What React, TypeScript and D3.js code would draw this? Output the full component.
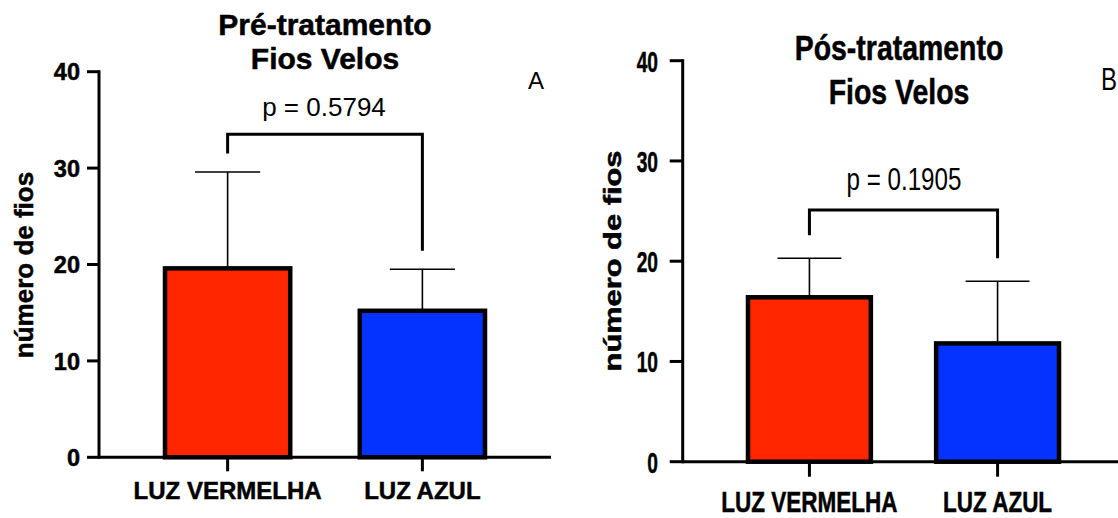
import * as d3 from "d3";

const GROUPS = ["LUZ VERMELHA", "LUZ AZUL"];
const COLORS = ["#FF2600", "#0433FF"];
const Y_TICKS = [0, 10, 20, 30, 40];

// mean and SD (upper error bar) per group
const PRE_MEAN = [19.6, 15.2];
const PRE_SD = [10.0, 4.3];
const POST_MEAN = [16.4, 11.8];
const POST_SD = [3.9, 6.2];

const P_VALUES = ["p = 0.5794", "p = 0.1905"];
const BRACKET_Y = [33.5, 25.1];
const TITLES = [
  ["Pré-tratamento", "Fios Velos"],
  ["Pós-tratamento", "Fios Velos"],
];
const LETTERS = ["A", "B"];
const Y_LABEL = "número de fios";

const FONT = "'Liberation Sans', Arial, sans-serif";

// layout of each panel (the source figure is two images, stretched differently)
const PANELS = [
  {
    mean: PRE_MEAN, sd: PRE_SD,
    axisX: 99, axisEnd: 551, yTop: 71.7, yBot: 457.3,
    bars: [165, 485], pad: 0.357,
    tick: { right: 80, size: 24, sx: 0.98 },
    xlab: { base: 499, size: 24, sx: 1.0 },
    ylab: { x: 33, y: 265, size: 26, sx: 1.0 },
    title: { x: 325, base: [35, 69], size: 30, sx: 1.0 },
    letter: { x: 536, base: 89, size: 24, sx: 1.0 },
    p: { x: 324, gap: 18, size: 26, sx: 1.0 },
    legGap: 18.5, tickLen: 12,
  },
  {
    mean: POST_MEAN, sd: POST_SD,
    axisX: 682.7, axisEnd: 1118, yTop: 60.7, yBot: 461.7,
    bars: [748, 1059], pad: 0.347,
    tick: { right: 658, size: 30, sx: 0.64 },
    xlab: { base: 512, size: 30, sx: 0.75 },
    ylab: { x: 621, y: 261, size: 23, sx: 1.34 },
    title: { x: 899, base: [60, 104], size: 36, sx: 0.79 },
    letter: { x: 1109, base: 90, size: 32, sx: 0.75 },
    p: { x: 904, gap: 20, size: 31, sx: 0.78 },
    legGap: 23, tickLen: 13,
  },
];

function Txt({ x, y, size, sx, bold, anchor = "middle", rotate = 0, children }: any) {
  return (
    <text
      transform={`translate(${x},${y}) rotate(${rotate}) scale(${sx},1)`}
      textAnchor={anchor}
      fontFamily={FONT}
      fontSize={size}
      fontWeight={bold ? "bold" : "normal"}
      fill="#000"
      stroke={bold ? "#000" : "none"}
      strokeWidth={bold ? 0.5 : 0}
    >
      {children}
    </text>
  );
}

function Panel({ cfg, i }: any) {
  const y = d3.scaleLinear().domain([0, 40]).range([cfg.yBot, cfg.yTop]);
  const x = d3.scaleBand<string>().domain(GROUPS).range(cfg.bars).paddingInner(cfg.pad).paddingOuter(0);
  const bw = x.bandwidth();
  const cx = (g: string) => (x(g) as number) + bw / 2;
  const capHalf = bw * 0.26;
  const errTop = GROUPS.map((_, k) => y(cfg.mean[k] + cfg.sd[k]));
  const by = y(BRACKET_Y[i]);

  return (
    <g>
      {/* titles */}
      {TITLES[i].map((t, k) => (
        <Txt key={t} x={cfg.title.x} y={cfg.title.base[k]} size={cfg.title.size} sx={cfg.title.sx} bold>
          {t}
        </Txt>
      ))}
      <Txt x={cfg.letter.x} y={cfg.letter.base} size={cfg.letter.size} sx={cfg.letter.sx}>
        {LETTERS[i]}
      </Txt>

      {/* y axis label */}
      <Txt x={cfg.ylab.x} y={cfg.ylab.y} size={cfg.ylab.size} sx={cfg.ylab.sx} bold rotate={-90}>
        {Y_LABEL}
      </Txt>

      {/* error bars (upper only) */}
      {GROUPS.map((g, k) => (
        <g key={g} stroke="#000" strokeWidth={1.6}>
          <line x1={cx(g)} x2={cx(g)} y1={y(cfg.mean[k])} y2={errTop[k]} />
          <line x1={cx(g) - capHalf} x2={cx(g) + capHalf} y1={errTop[k]} y2={errTop[k]} />
        </g>
      ))}

      {/* bars */}
      {GROUPS.map((g, k) => (
        <rect
          key={g}
          x={x(g)}
          y={y(cfg.mean[k])}
          width={bw}
          height={y(0) - y(cfg.mean[k])}
          fill={COLORS[k]}
          stroke="#000"
          strokeWidth={4.5}
        />
      ))}

      {/* axes */}
      <g stroke="#000" strokeWidth={3} fill="none">
        <line x1={cfg.axisX} x2={cfg.axisX} y1={y(40) - 1.5} y2={y(0) + 1.5} />
        <line x1={cfg.axisX} x2={cfg.axisEnd} y1={y(0)} y2={y(0)} />
        {Y_TICKS.map((t) => (
          <line key={t} x1={cfg.axisX - cfg.tickLen} x2={cfg.axisX} y1={y(t)} y2={y(t)} />
        ))}
        {GROUPS.map((g) => (
          <line key={g} x1={cx(g)} x2={cx(g)} y1={y(0)} y2={y(0) + cfg.tickLen + 2} />
        ))}
      </g>
      {Y_TICKS.map((t) => (
        <Txt key={t} x={cfg.tick.right} y={y(t) + cfg.tick.size * 0.36} size={cfg.tick.size} sx={cfg.tick.sx} bold anchor="end">
          {t}
        </Txt>
      ))}
      {GROUPS.map((g) => (
        <Txt key={g} x={cx(g)} y={cfg.xlab.base} size={cfg.xlab.size} sx={cfg.xlab.sx} bold>
          {g}
        </Txt>
      ))}

      {/* significance bracket */}
      <path
        d={`M${cx(GROUPS[0])},${errTop[0] - cfg.legGap} V${by} H${cx(GROUPS[1])} V${errTop[1] - cfg.legGap}`}
        fill="none"
        stroke="#000"
        strokeWidth={3}
      />
      <Txt x={cfg.p.x} y={by - cfg.p.gap} size={cfg.p.size} sx={cfg.p.sx}>
        {P_VALUES[i]}
      </Txt>
    </g>
  );
}

export default function App() {
  return (
    <svg
      width={1118}
      height={518}
      style={{ position: "absolute", left: 0, top: 0, background: "#fff" }}
    >
      {PANELS.map((cfg, i) => (
        <Panel key={i} cfg={cfg} i={i} />
      ))}
    </svg>
  );
}
